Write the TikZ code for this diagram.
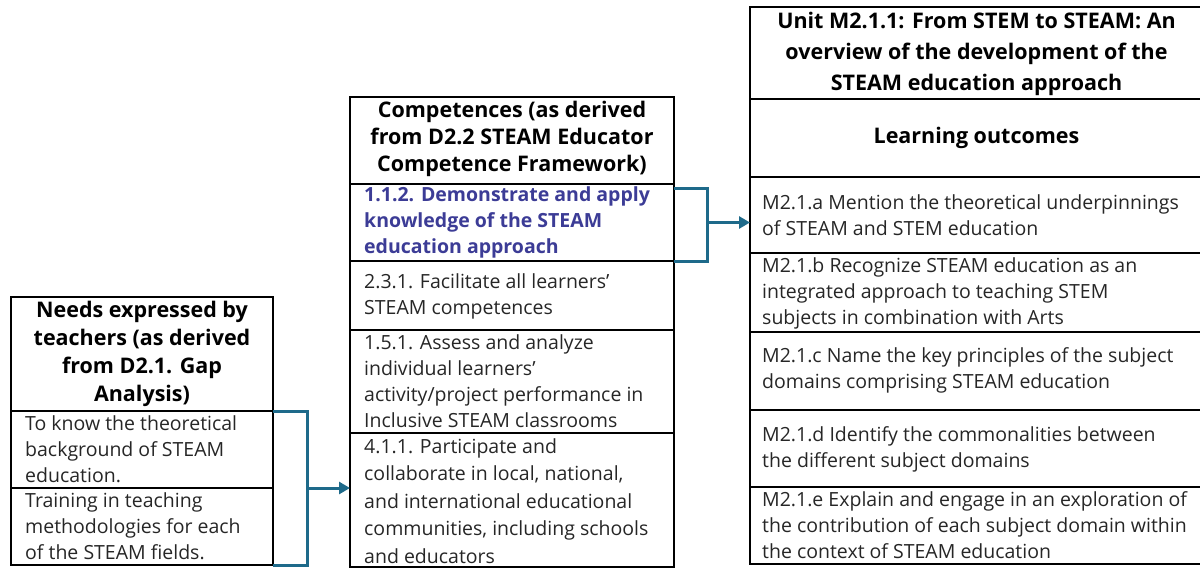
\documentclass[tikz,border=0pt]{standalone}
\usepackage{fontspec}
\setmainfont{Open Sans}
\usetikzlibrary{arrows.meta,calc}
\definecolor{linkteal}{HTML}{1E6A8A}
\definecolor{compblue}{HTML}{3C3C96}
\definecolor{bodytext}{HTML}{262626}
\tikzset{
  cellbox/.style={draw=black,line width=2.2pt,inner sep=0pt,outer sep=0pt,fill=none},
  opencell/.style={inner sep=0pt,outer sep=0pt},
  rule/.style={draw=black,line width=2.2pt},
  bodytxt/.style={anchor=west,align=left,inner sep=0pt,text=bodytext,font=\fontsize{19.5}{26}\selectfont},
  headtxt/.style={anchor=center,align=center,inner sep=0pt,text=black,font=\fontsize{21.5}{#1}\selectfont\bfseries},
  linkline/.style={draw=linkteal,line width=3pt},
  linkarrow/.style={linkline,-{Triangle[length=11pt,width=12pt]}}
}
\begin{document}
\begin{tikzpicture}[x=1pt,y=-1pt]
\useasboundingbox (0,0) rectangle (1200,568);
% left table
\node[cellbox,minimum width=262pt,minimum height=114pt] (lh) at (142,354) {};
\node[cellbox,minimum width=262pt,minimum height=77pt] (l1) at (142,449.5) {};
\node[cellbox,minimum width=262pt,minimum height=77pt] (l2) at (142,526.5) {};
% middle table
\node[cellbox,minimum width=324pt,minimum height=87pt] (mh) at (512,140.5) {};
\node[cellbox,minimum width=324pt,minimum height=77pt] (m1) at (512,222.5) {};
\node[cellbox,minimum width=324pt,minimum height=69pt] (m2) at (512,295.5) {};
\node[cellbox,minimum width=324pt,minimum height=103pt] (m3) at (512,381.5) {};
\node[cellbox,minimum width=324pt,minimum height=134pt] (m4) at (512,500) {};
% right table (runs past the right edge)
\node[opencell,minimum width=450pt,minimum height=92pt] (rh) at (975,53) {};
\node[opencell,minimum width=450pt,minimum height=78pt] (rl) at (975,138) {};
\node[opencell,minimum width=450pt,minimum height=76pt] (ra) at (975,215) {};
\node[opencell,minimum width=450pt,minimum height=79pt] (rb) at (975,292.5) {};
\node[opencell,minimum width=450pt,minimum height=78pt] (rc) at (975,371) {};
\node[opencell,minimum width=450pt,minimum height=77pt] (rd) at (975,448.5) {};
\node[opencell,minimum width=450pt,minimum height=77pt] (re) at (975,525.5) {};
\draw[rule] (rh.north east) -- (rh.north west) -- (re.south west) -- (re.south east);
\foreach \c in {rh,rl,ra,rb,rc,rd}{
  \draw[rule] (\c.south west) -- (\c.south east);
}
% texts left
\node[headtxt=28] (tlh) at (142,354) {Needs expressed by\\teachers (as derived\\from D2.1. Gap\\Analysis)};
\node[bodytxt] (tl1) at (25,449.5) {To know the theoretical\\background of STEAM\\education.};
\node[bodytxt] (tl2) at (25,526.5) {Training in teaching\\methodologies for each\\of the STEAM fields.};
% texts middle
\node[headtxt=27] (tmh) at (512,139) {Competences (as derived\\from D2.2 STEAM Educator\\Competence Framework)};
\node[bodytxt,text=compblue,font=\fontsize{19.5}{26}\selectfont\bfseries] (tm1) at (364,222) {1.1.2. Demonstrate and apply\\knowledge of the STEAM\\education approach};
\node[bodytxt] (tm2) at (364,296.5) {2.3.1. Facilitate all learners’\\STEAM competences};
\node[bodytxt] (tm3) at (364,381) {1.5.1. Assess and analyze\\individual learners’\\activity/project performance in\\Inclusive STEAM classrooms};
\node[bodytxt,font=\fontsize{19.5}{27.5}\selectfont] (tm4) at (364,501) {4.1.1. Participate and\\collaborate in local, national,\\and international educational\\communities, including schools\\and educators};
% texts right
\node[headtxt=31] (trh) at (976.5,54) {Unit M2.1.1: From STEM to STEAM: An\\overview of the development of the\\STEAM education approach};
\node[headtxt=26] (trl) at (976.5,138) {Learning outcomes};
\node[bodytxt] (tra) at (762,215.5) {M2.1.a Mention the theoretical underpinnings\\of STEAM and STEM education};
\node[bodytxt] (trb) at (762,293) {M2.1.b Recognize STEAM education as an\\integrated approach to teaching STEM\\subjects in combination with Arts};
\node[bodytxt] (trc) at (762,370) {M2.1.c  Name the key principles of the subject\\domains comprising STEAM education};
\node[bodytxt] (trd) at (762,449) {M2.1.d Identify the commonalities between\\the different subject domains};
\node[bodytxt] (tre) at (762,525.5) {M2.1.e Explain and engage in an exploration of\\the contribution of each subject domain within\\the context of STEAM education};
% connectors
\draw[linkline] (l1.north east) -- ++(34,0) |- (l2.south east);
\draw[linkarrow] ($(l1.south east)+(34,0)$) -- (m4.west |- l1.south);
\draw[linkline] ($(m1.north east)+(0,4)$) -- ++(33,0) |- (m1.south east);
\draw[linkarrow] ($(m1.east)+(33,0)$) -- (ra.west |- m1.east);
\end{tikzpicture}
\end{document}
